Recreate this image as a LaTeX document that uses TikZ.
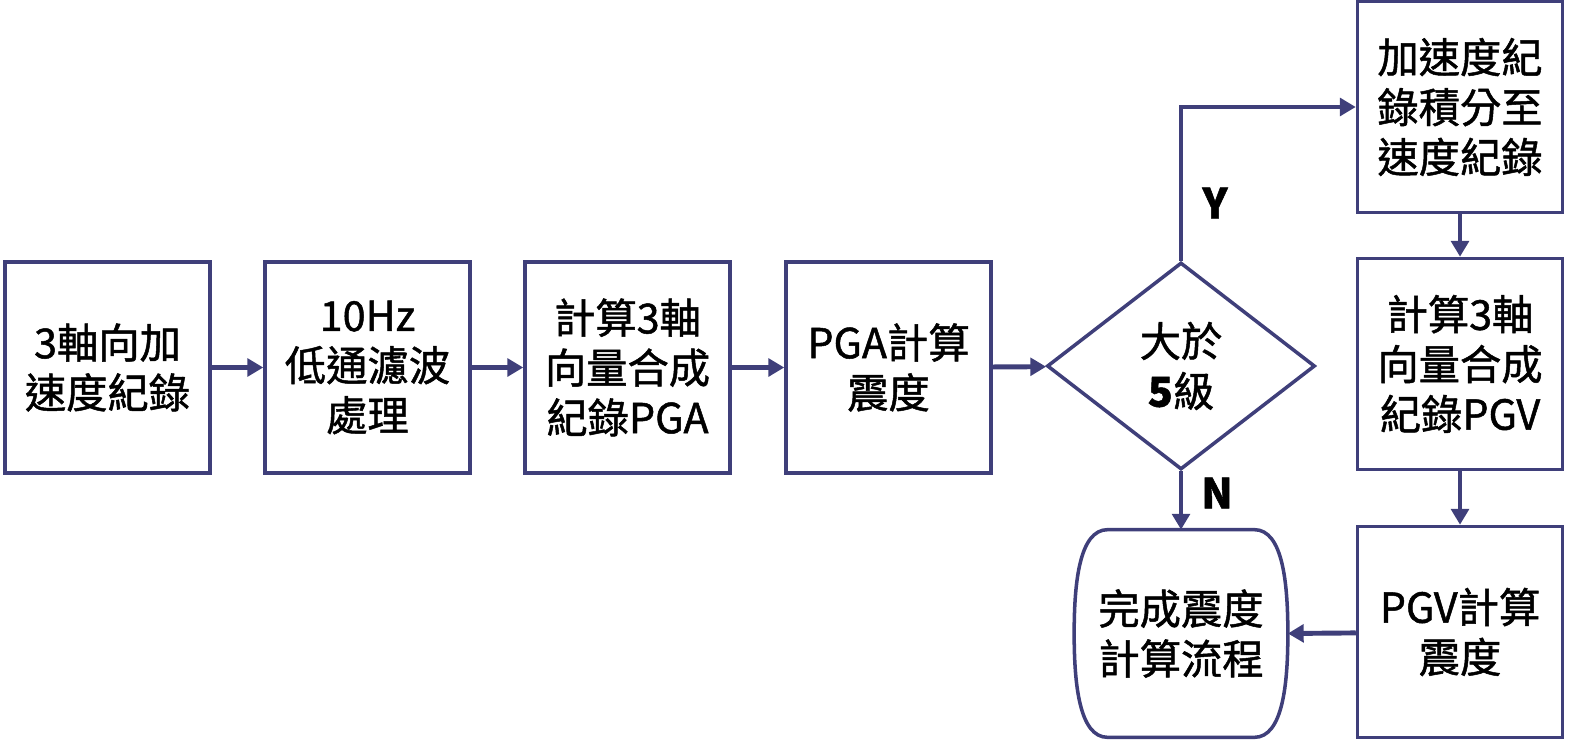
\documentclass[tikz,border=0pt]{standalone}
\usepackage{fontspec}
\setmainfont{Noto Sans CJK TC}[FakeBold=1.2]
\usetikzlibrary{shapes.geometric, positioning, arrows.meta}
\definecolor{flowline}{RGB}{63,63,122}
\newcommand{\flowfont}{\fontsize{23.5}{28.4}\selectfont}

\tikzset{
    box/.style={draw=flowline, line width=2pt, minimum width=4.1cm, minimum height=4.22cm, align=center, font=\flowfont},
    decide/.style={diamond, draw=flowline, line width=2pt, minimum width=5.36cm, minimum height=4.14cm, inner sep=0pt, align=center, font=\flowfont},
    arr/.style={draw=flowline, line width=2.8pt, -{Triangle[length=9pt,width=10pt]}},
    yn/.style={font=\flowfont\bfseries}
}

\begin{document}
\begin{tikzpicture}

    \useasboundingbox (0,0) rectangle (31.76,15);

    %main row
    \node[box] (rec) at (2.15,7.65) {3軸向加\\速度紀錄};
    \node[box] (lowpass) at (7.35,7.65) {10Hz\\低通濾波\\處理};
    \node[box] (pgarec) at (12.55,7.65) {計算3軸\\向量合成\\紀錄PGA};
    \node[box] (pgaint) at (17.77,7.65) {PGA計算\\震度};
    \node[decide] (dec) at (23.62,7.68) {大於\\\textbf{5}級};

    %right column
    \node[box] (integ) at (29.2,12.86) {加速度紀\\錄積分至\\速度紀錄};
    \node[box] (pgvrec) at (29.2,7.72) {計算3軸\\向量合成\\紀錄PGV};
    \node[box] (pgvint) at (29.2,2.36) {PGV計算\\震度};

    %end
    \node[minimum width=4.26cm, minimum height=4.14cm, align=center, font=\flowfont] (done) at (23.62,2.33) {完成震度\\計算流程};
    \draw[draw=flowline, line width=2pt] ([xshift=0.67cm]done.north west) -- ([xshift=-0.67cm]done.north east)
        .. controls ([xshift=-0.1cm]done.north east) and ([yshift=1cm]done.east) .. (done.east)
        .. controls ([yshift=-1cm]done.east) and ([xshift=-0.1cm]done.south east) .. ([xshift=-0.67cm]done.south east)
        -- ([xshift=0.67cm]done.south west)
        .. controls ([xshift=0.1cm]done.south west) and ([yshift=-1cm]done.west) .. (done.west)
        .. controls ([yshift=1cm]done.west) and ([xshift=0.1cm]done.north west) .. cycle;

    %labels
    \node[yn] (yes) at (24.3,10.94) {Y};
    \node[yn] (no) at (24.34,5.14) {N};

    %arrows
    \foreach \a/\b in {rec/lowpass, lowpass/pgarec, pgarec/pgaint, pgaint/dec}
        \draw[arr] (\a) -- (\b);
    \draw[arr] (dec.north) |- (integ.west);
    \draw[arr] (dec.south) -- (done.north);
    \draw[arr] (integ) -- (pgvrec);
    \draw[arr] (pgvrec) -- (pgvint);
    \draw[arr] (pgvint) -- (done.east);

\end{tikzpicture}
\end{document}
